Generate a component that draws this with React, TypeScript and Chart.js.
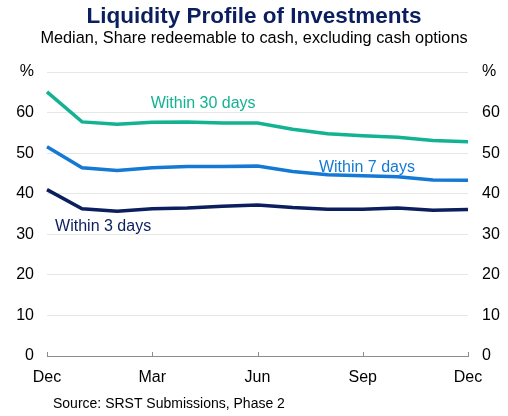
import React, { useEffect, useRef } from "react";
import { Chart, registerables } from "chart.js";

Chart.register(...registerables);

const months = ["Dec", "Jan", "Feb", "Mar", "Apr", "May", "Jun", "Jul", "Aug", "Sep", "Oct", "Nov", "Dec"];
const within30 = [65.1, 57.7, 57.1, 57.6, 57.7, 57.4, 57.4, 55.9, 54.8, 54.3, 53.9, 53.1, 52.8];
const within7 = [51.6, 46.4, 45.7, 46.4, 46.7, 46.7, 46.8, 45.5, 44.7, 44.4, 44.2, 43.4, 43.3];
const within3 = [41.0, 36.3, 35.7, 36.3, 36.5, 36.9, 37.2, 36.6, 36.2, 36.2, 36.5, 35.9, 36.1];
const yTicks = [0, 10, 20, 30, 40, 50, 60, 70];
const shownMonths = [0, 3, 6, 9, 12];

const TEAL = "#13B293";
const BLUE = "#1479D4";
const NAVY = "#0B1F5E";
const FONT = "'Liberation Sans', Arial, sans-serif";

const seriesLabels = [
  { text: "Within 30 days", color: TEAL, x: 4.45, y: 62.2 },
  { text: "Within 7 days", color: BLUE, x: 9.12, y: 46.4 },
  { text: "Within 3 days", color: NAVY, x: 1.6, y: 31.8 },
];

export default function App() {
  const ref = useRef<HTMLCanvasElement | null>(null);
  useEffect(() => {
    document.body.style.margin = "0";
    const canvas = ref.current!;
    const textPlugin = {
      id: "texts",
      afterDraw(chart: any) {
        const ctx = chart.ctx;
        const xs = chart.scales.x;
        const ys = chart.scales.y;
        ctx.save();
        ctx.strokeStyle = "#8c8c8c";
        ctx.lineWidth = 1;
        const base = ys.getPixelForValue(0);
        shownMonths.forEach((i) => {
          const px = Math.round(xs.getPixelForValue(i)) + 0.5;
          ctx.beginPath();
          ctx.moveTo(px, base);
          ctx.lineTo(px, base - 4);
          ctx.stroke();
        });
        ctx.textAlign = "center";
        ctx.textBaseline = "middle";
        ctx.fillStyle = NAVY;
        ctx.font = `bold 22.5px ${FONT}`;
        ctx.fillText("Liquidity Profile of Investments", 254, 17);
        ctx.fillStyle = "#000";
        ctx.font = `16.3px ${FONT}`;
        ctx.fillText("Median, Share redeemable to cash, excluding cash options", 254, 39);
        ctx.font = `16px ${FONT}`;
        seriesLabels.forEach((l) => {
          ctx.fillStyle = l.color;
          ctx.fillText(l.text, xs.getPixelForValue(l.x), ys.getPixelForValue(l.y));
        });
        ctx.fillStyle = "#000";
        ctx.textAlign = "left";
        ctx.font = `14px ${FONT}`;
        ctx.fillText("Source: SRST Submissions, Phase 2", 53, 404);
        ctx.restore();
      },
    };
    const tickCb = (v: any) => (v === 70 ? "%" : String(v));
    const chart = new Chart(canvas, {
      type: "line",
      data: {
        labels: months,
        datasets: [
          { data: within30, borderColor: TEAL, borderWidth: 3.5, pointRadius: 0, tension: 0 },
          { data: within7, borderColor: BLUE, borderWidth: 3.5, pointRadius: 0, tension: 0 },
          { data: within3, borderColor: NAVY, borderWidth: 3.5, pointRadius: 0, tension: 0 },
        ],
      },
      options: {
        animation: false,
        responsive: false,
        devicePixelRatio: 1,
        layout: { padding: { top: 72, left: 0, right: 0, bottom: 0 } },
        plugins: { legend: { display: false }, tooltip: { enabled: false }, title: { display: false } },
        scales: {
          x: {
            type: "category",
            offset: false,
            grid: { display: false, drawTicks: false },
            border: { display: true, color: "#8c8c8c", width: 1 },
            ticks: {
              autoSkip: false,
              maxRotation: 0,
              padding: 12,
              color: "#000",
              font: { family: FONT, size: 16 },
              callback: (v: any, i: number) => (shownMonths.includes(i) ? months[i] : ""),
            },
            afterFit: (s: any) => { s.height = 60; },
          },
          y: {
            position: "left",
            min: 0,
            max: 70,
            afterBuildTicks: (s: any) => { s.ticks = yTicks.map((v) => ({ value: v })); },
            grid: { color: "#e6e6e6", drawTicks: false },
            border: { display: false },
            ticks: { padding: 13, color: "#000", font: { family: FONT, size: 16 }, callback: tickCb },
            afterFit: (s: any) => { s.width = 47; },
          },
          y2: {
            position: "right",
            min: 0,
            max: 70,
            afterBuildTicks: (s: any) => { s.ticks = yTicks.map((v) => ({ value: v })); },
            grid: { display: false, drawTicks: false },
            border: { display: false },
            ticks: { padding: 14, color: "#000", font: { family: FONT, size: 16 }, callback: tickCb },
            afterFit: (s: any) => { s.width = 40; },
          },
        },
      },
      plugins: [textPlugin],
    } as any);
    return () => chart.destroy();
  }, []);
  return (
    <div style={{ width: 508, height: 416 }}>
      <canvas ref={ref} width={508} height={416} style={{ display: "block" }} />
    </div>
  );
}
